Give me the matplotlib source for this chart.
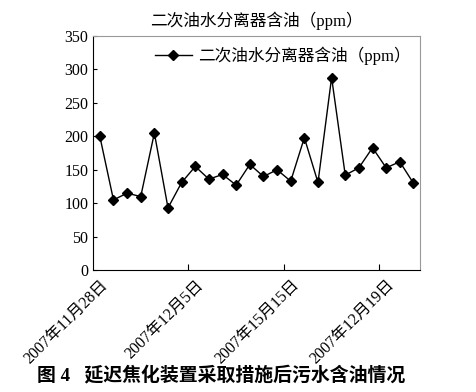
import matplotlib
matplotlib.use("Agg")
import matplotlib.pyplot as plt

plt.rcParams['font.family'] = ['Liberation Serif', 'Noto Sans CJK SC']

values = [200, 105, 115, 110, 205, 93, 131, 155, 136, 143, 127, 158,
          140, 150, 133, 198, 131, 288, 142, 153, 183, 153, 162, 130]
label_idx = [0, 7, 14, 21]
date_labels = ['2007年11月28日', '2007年12月5日', '2007年15月15日', '2007年12月19日']
series_name = '二次油水分离器含油（ppm）'
caption = '图 4   延迟焦化装置采取措施后污水含油情况'

fig = plt.figure(figsize=(4.77, 3.92), dpi=100)
ax = fig.add_axes([0.195, 0.311, 0.686, 0.597])

x = [i + 0.5 for i in range(len(values))]
ax.plot(x, values, color='black', lw=1, marker='D', markersize=5.5,
        label=series_name)

ax.set_xlim(0, len(values))
ax.set_ylim(0, 350)
ax.set_yticks(range(0, 351, 50))
ax.tick_params(axis='y', direction='in', length=3, labelsize=11.5)

ax.set_xticks([7, 14, 21])
ax.set_xticklabels([])
ax.tick_params(axis='x', which='major', direction='in', length=4)
ax.set_xticks([i + 0.5 for i in label_idx], minor=True)
ax.set_xticklabels(date_labels, minor=True, rotation=45, ha='right',
                   rotation_mode='anchor', fontsize=11.5)
ax.tick_params(axis='x', which='minor', length=0, pad=5)

for s in ['top', 'right']:
    ax.spines[s].set_color('#999999')

ax.legend(loc='upper right', frameon=False, fontsize=12, handlelength=2.2,
          handletextpad=0.35, borderaxespad=0.2)
ax.set_title(series_name, fontsize=12, pad=7)

fig.text(0.463, 0.043, caption, ha='center', va='center', fontsize=13.6,
         fontweight='bold')

fig.savefig('out.png', dpi=100)
plt.close(fig)
